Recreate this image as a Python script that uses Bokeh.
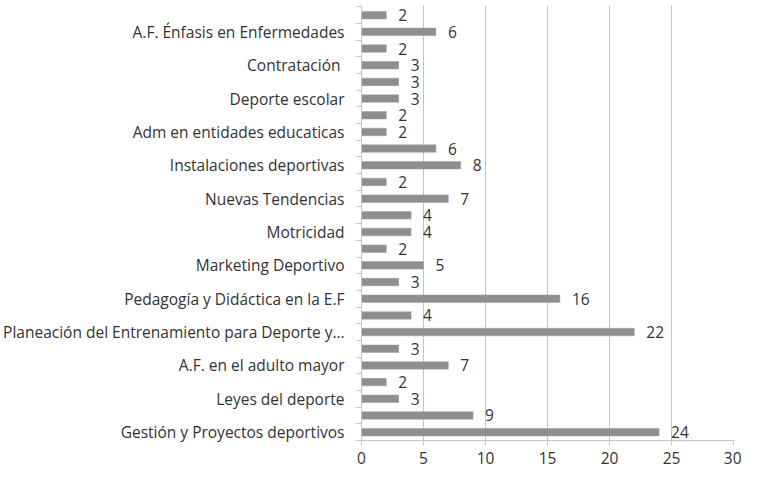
from bokeh.plotting import figure
from bokeh.models import FixedTicker, Range1d, ColumnDataSource
from bokeh.core.properties import value
from bokeh.embed import file_html
from bokeh.resources import INLINE

# bottom-to-top values (26 bars)
values = [24, 9, 3, 2, 7, 3, 22, 4, 16, 3, 5, 2, 4, 4, 7, 2, 8, 6, 2, 2, 3, 3, 3, 2, 6, 2]
# labels visible on the axis (every other category, bottom-to-top)
labels = [
    "Gestión y Proyectos deportivos",
    "Leyes del deporte",
    "A.F. en el adulto mayor",
    "Planeación del Entrenamiento para Deporte y…",
    "Pedagogía y Didáctica en la E.F",
    "Marketing Deportivo",
    "Motricidad",
    "Nuevas Tendencias",
    "Instalaciones deportivas",
    "Adm en entidades educaticas",
    "Deporte escolar",
    "Contratación ",
    "A.F. Énfasis en Enfermedades",
]
x_ticks = [0, 5, 10, 15, 20, 25, 30]

n = len(values)
pos = list(range(n))
src = ColumnDataSource(dict(y=pos, v=values, t=[str(v) for v in values]))

FONT = "Open Sans"
FS = "15.5px"
TXT = "#333333"
GRID = "#c4c4c4"

p = figure(width=741, height=470, output_backend="svg", toolbar_location=None,
           x_range=Range1d(0, 30), y_range=Range1d(-0.5, n - 0.42))
p.min_border_top = 5
p.min_border_right = 8
p.min_border_left = 0
p.min_border_bottom = 30
p.outline_line_color = None
p.background_fill_color = "white"

p.hbar(y="y", right="v", left=0, height=0.45, source=src,
       fill_color="#8e8e8e", line_color="#9e9e9e", line_width=0.5)
p.text(x="v", y="y", text="t", source=src, x_offset=12, text_baseline="middle",
       text_font=value(FONT), text_font_size=FS, text_color=TXT)

# y axis
yticks = [i for i in range(0, n, 2)]
p.yaxis.ticker = FixedTicker(ticks=yticks, minor_ticks=[i - 0.5 for i in range(n + 1)])
p.yaxis.major_label_overrides = {i: labels[k] for k, i in enumerate(yticks)}
p.yaxis.major_tick_line_color = None
p.yaxis.major_tick_out = 5
p.yaxis.major_tick_in = 0
p.yaxis.minor_tick_out = 5
p.yaxis.minor_tick_in = 0
p.yaxis.minor_tick_line_color = GRID
p.yaxis.axis_line_color = GRID
p.yaxis.major_label_standoff = 12
p.yaxis.major_label_text_font = FONT
p.yaxis.major_label_text_font_size = FS
p.yaxis.major_label_text_color = TXT
p.ygrid.grid_line_color = None

# x axis
p.xaxis.ticker = FixedTicker(ticks=x_ticks, minor_ticks=[])
p.xaxis.axis_line_color = GRID
p.xaxis.major_tick_line_color = GRID
p.xaxis.major_tick_out = 5
p.xaxis.major_tick_in = 0
p.xaxis.minor_tick_line_color = None
p.xaxis.major_label_standoff = 6
p.xaxis.major_label_text_font = FONT
p.xaxis.major_label_text_font_size = FS
p.xaxis.major_label_text_color = TXT
p.xgrid.grid_line_color = GRID
p.xgrid.ticker = FixedTicker(ticks=x_ticks)

open("out.html", "w").write(file_html(p, INLINE))
